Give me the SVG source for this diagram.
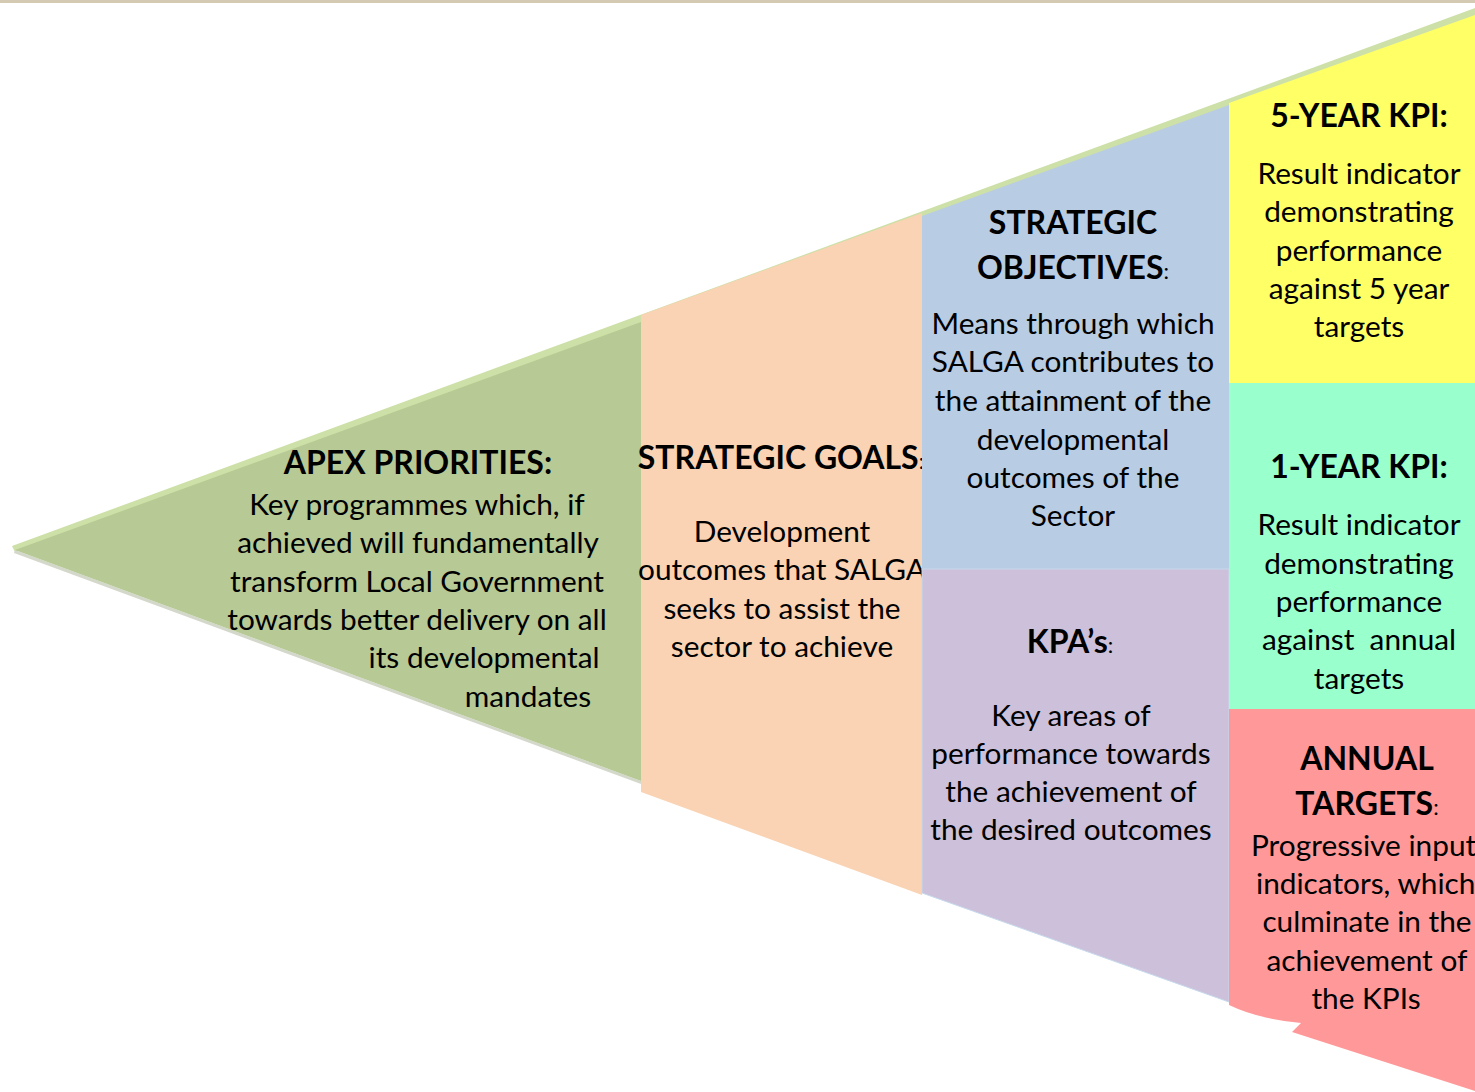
<svg xmlns="http://www.w3.org/2000/svg" width="1475" height="1092" viewBox="0 0 1475 1092">
<style>
text{font-family:Lato,"Open Sans","Liberation Sans",sans-serif;fill:#000;text-anchor:middle}
.h{font-weight:bold;font-size:32px}
.b{font-size:29.8px}
.c{font-weight:normal;font-size:22px}
</style>
<rect x="0" y="0" width="1475" height="1092" fill="#ffffff"/>
<rect x="0" y="0" width="1475" height="3" fill="#d4cab4"/>
<g id="funnel-base">
<polygon points="12,546 1475,8 1475,18 15,552" fill="#cde0a8"/>
<polygon points="15,550 641,781 641,784 14,553" fill="#d3d8cb"/>
</g>
<g id="apex">
<polygon points="15,550 641,322 641,781" fill="#b7c994"/>
<text class="h" x="418" y="474">APEX PRIORITIES:</text>
<text class="b" x="417" y="515">Key programmes which, if</text>
<text class="b" x="418" y="553">achieved will fundamentally</text>
<text class="b" x="417" y="592">transform Local Government</text>
<text class="b" x="417" y="630">towards better delivery on all</text>
<text class="b" x="484" y="668">its developmental</text>
<text class="b" x="528" y="707">mandates</text>
</g>
<g id="goals">
<polygon points="641,315 922,213 922,895 641,792" fill="#f9d3b3"/>
<text class="h" x="781" y="469">STRATEGIC GOALS<tspan class="c">:</tspan></text>
<text class="b" x="782" y="542">Development</text>
<text class="b" x="782" y="580">outcomes that SALGA</text>
<text class="b" x="782" y="619">seeks to assist the</text>
<text class="b" x="782" y="657">sector to achieve</text>
</g>
<g id="objectives">
<polygon points="922,216 1229,105 1229,569 922,569" fill="#b8cce4"/>
<text class="h" x="1073" y="234">STRATEGIC</text>
<text class="h" x="1073" y="279">OBJECTIVES<tspan class="c">:</tspan></text>
<text class="b" x="1073" y="334">Means through which</text>
<text class="b" x="1073" y="372">SALGA contributes to</text>
<text class="b" x="1073" y="411">the attainment of the</text>
<text class="b" x="1073" y="450">developmental</text>
<text class="b" x="1073" y="488">outcomes of the</text>
<text class="b" x="1073" y="526">Sector</text>
</g>
<g id="kpas">
<polygon points="922,569 1229,569 1229,1002 922,893" fill="#ccc0da" stroke="#c6d9ec" stroke-width="1"/>
<text class="h" x="1070" y="653">KPA’s<tspan class="c">:</tspan></text>
<text class="b" x="1071" y="726">Key areas of</text>
<text class="b" x="1071" y="764">performance towards</text>
<text class="b" x="1071" y="802">the achievement of</text>
<text class="b" x="1071" y="840">the desired outcomes</text>
</g>
<g id="kpi5">
<polygon points="1229,103 1475,15 1475,383 1229,383" fill="#ffff66"/>
<text class="h" x="1359" y="127">5-YEAR KPI:</text>
<text class="b" x="1359" y="184">Result indicator</text>
<text class="b" x="1359" y="222">demonstrating</text>
<text class="b" x="1359" y="261">performance</text>
<text class="b" x="1359" y="299">against 5 year</text>
<text class="b" x="1359" y="337">targets</text>
</g>
<g id="kpi1">
<rect x="1229" y="383" width="246" height="326" fill="#99ffcc"/>
<text class="h" x="1359" y="478">1-YEAR KPI:</text>
<text class="b" x="1359" y="535">Result indicator</text>
<text class="b" x="1359" y="574">demonstrating</text>
<text class="b" x="1359" y="612">performance</text>
<text class="b" x="1359" y="650" xml:space="preserve">against  annual</text>
<text class="b" x="1359" y="689">targets</text>
</g>
<g id="annual">
<path d="M1229,709 L1475,709 L1475,1091 L1292,1032 L1301,1023 Q1258,1019 1229,1005 Z" fill="#ff9999"/>
<text class="h" x="1367" y="770">ANNUAL</text>
<text class="h" x="1367" y="815">TARGETS<tspan class="c">:</tspan></text>
<text class="b" x="1251" y="856" style="text-anchor:start">Progressive input</text>
<text class="b" x="1256" y="894" style="text-anchor:start">indicators, which</text>
<text class="b" x="1367" y="932">culminate in the</text>
<text class="b" x="1367" y="971">achievement of</text>
<text class="b" x="1366" y="1009">the KPIs</text>
</g>
<g id="connectors"></g>
</svg>
